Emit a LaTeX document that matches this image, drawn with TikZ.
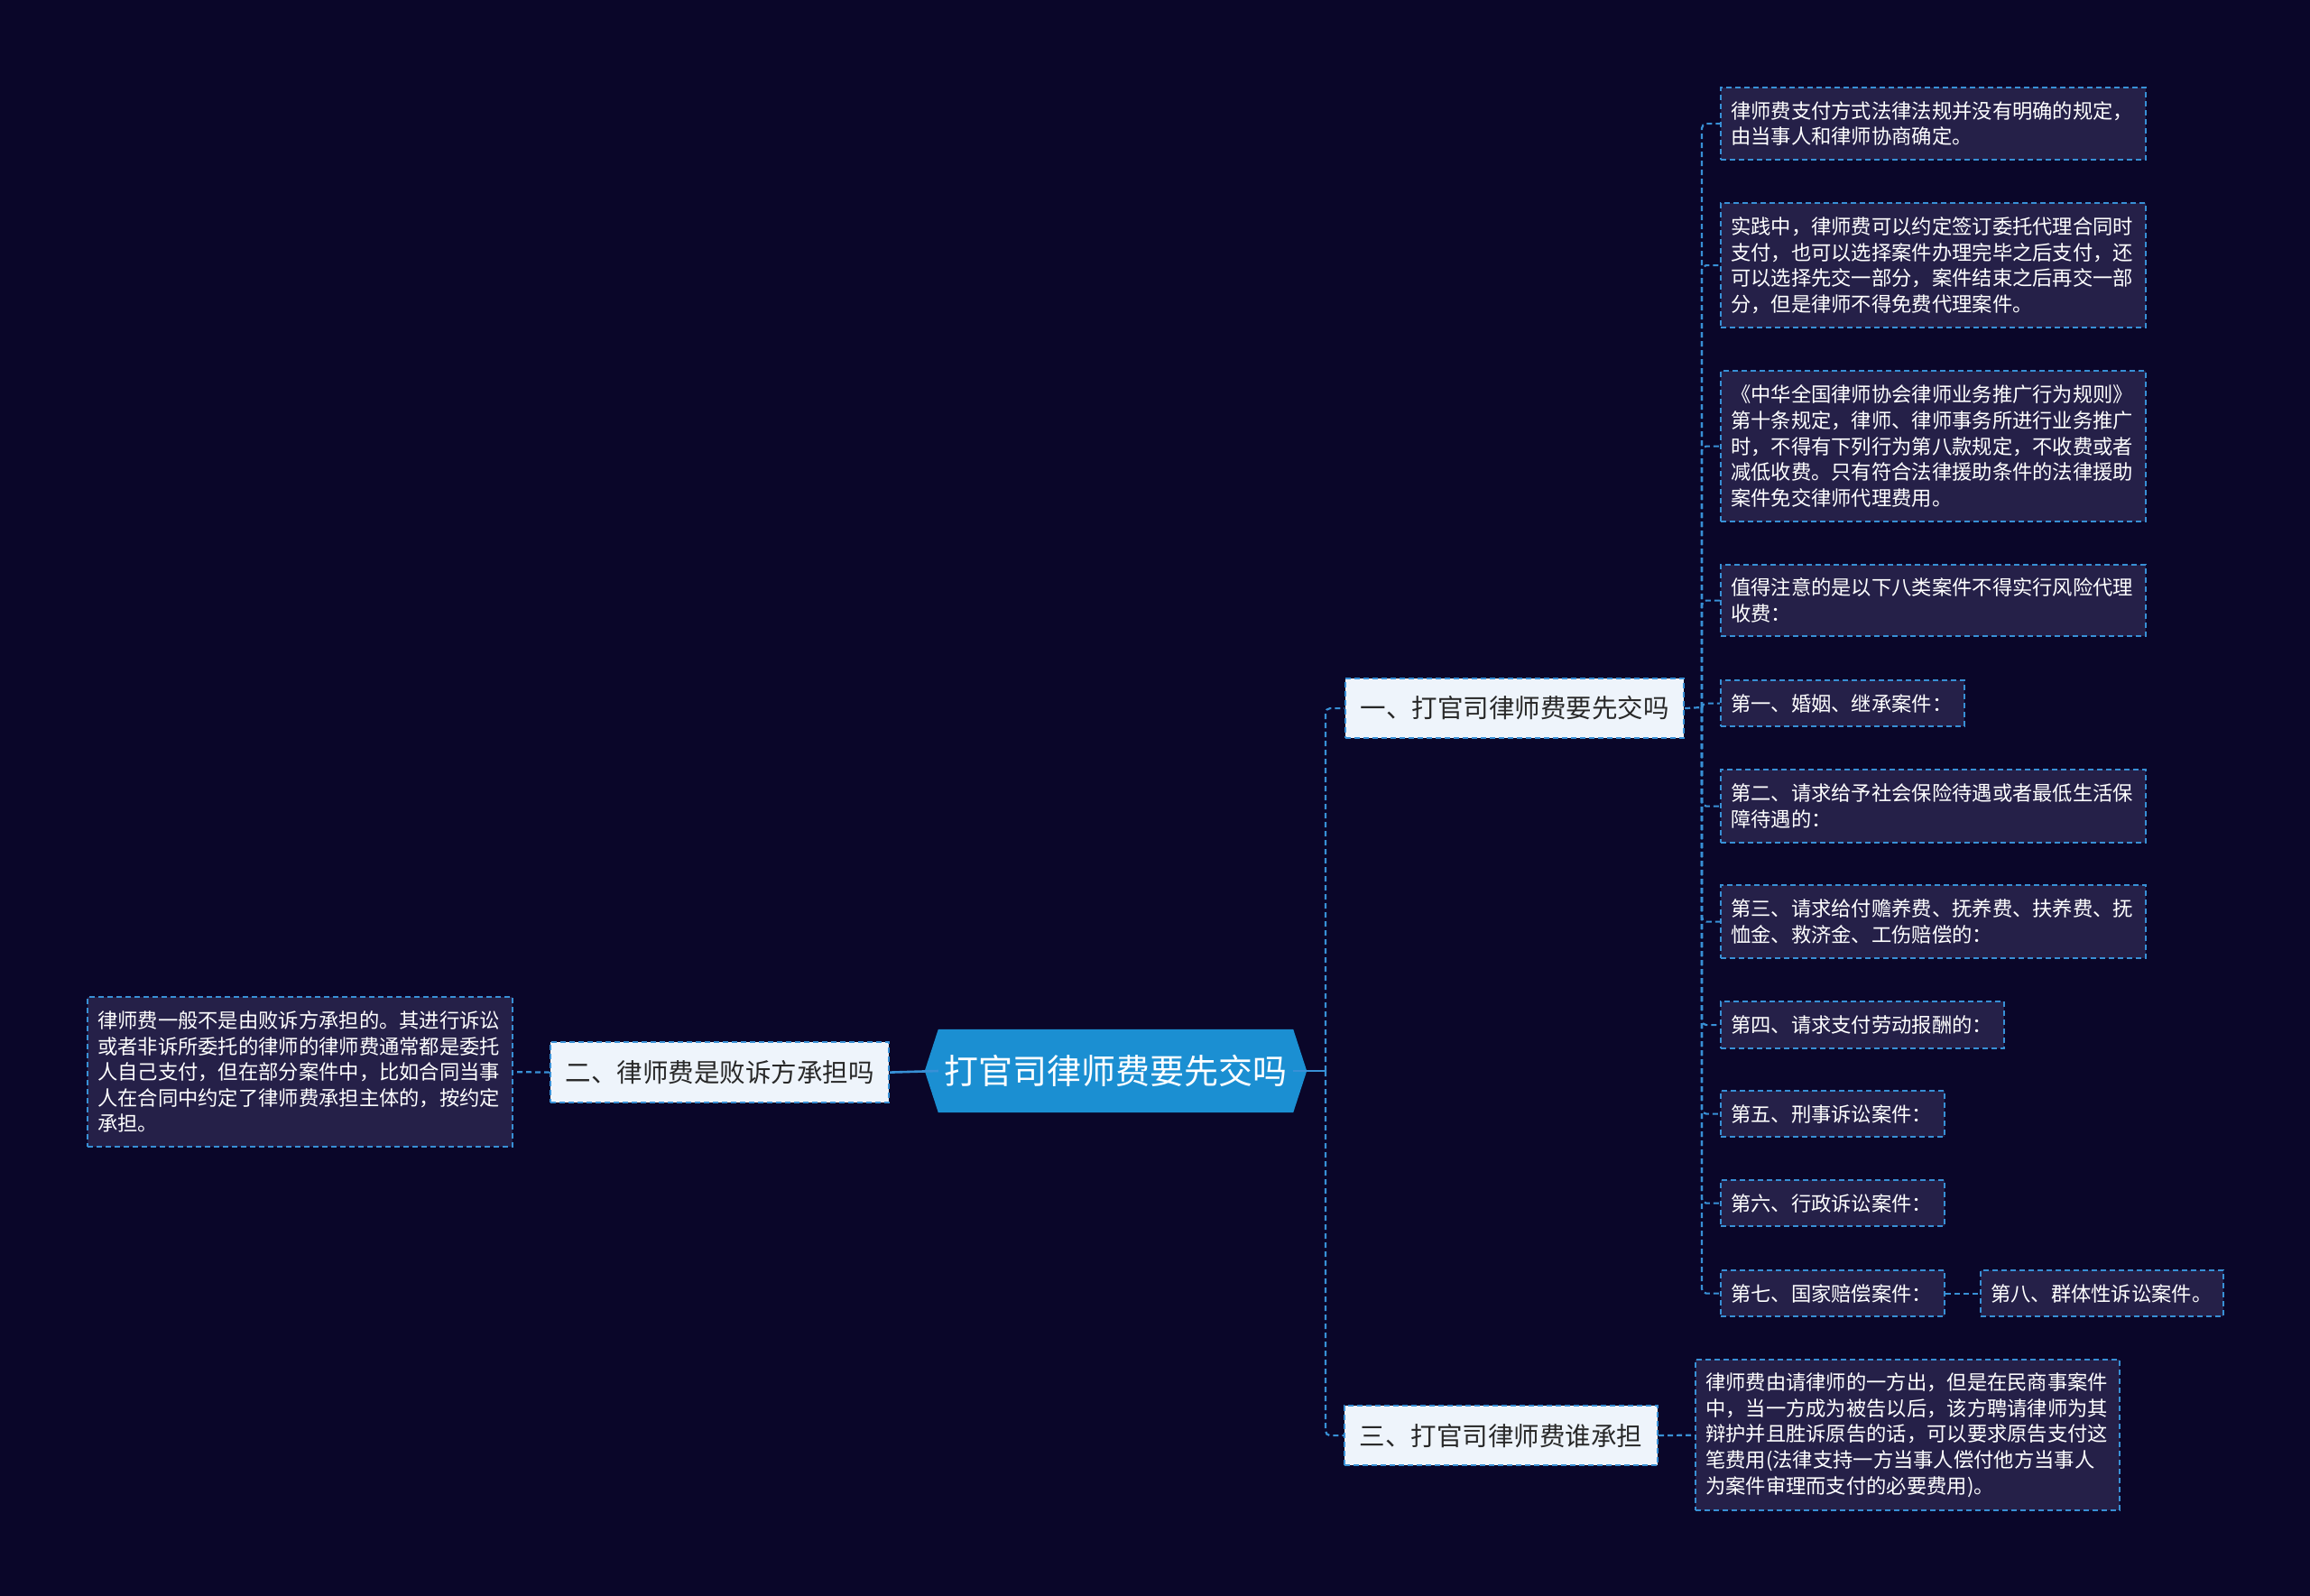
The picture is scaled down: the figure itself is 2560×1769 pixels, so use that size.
\documentclass[tikz,border=0pt]{standalone}
\usepackage{fontspec}
\setmainfont{Noto Sans CJK SC}
\usetikzlibrary{calc}
\pgfdeclarelayer{bg}
\pgfsetlayers{bg,main}
\definecolor{bgc}{RGB}{10,6,41}
\definecolor{linec}{RGB}{56,144,214}
\definecolor{rootc}{RGB}{27,143,210}
\definecolor{leaffill}{RGB}{37,32,72}
\definecolor{topfill}{RGB}{238,244,251}
\definecolor{toptext}{RGB}{40,40,40}
\begin{document}
\begin{tikzpicture}[x=1pt,y=-1pt,
  conn/.style={draw=linec, line width=2.2pt, dash pattern=on 6pt off 4pt},
  leaf/.style={draw=linec, fill=leaffill, line width=2.2pt, dash pattern=on 6pt off 4pt,
    text=white, font=\fontsize{22.3}{28.6}\selectfont, align=left,
    inner xsep=11pt, inner ysep=0pt, anchor=north west},
  topic/.style={draw=linec, fill=topfill, line width=2.2pt, dash pattern=on 6pt off 4pt,
    text=toptext, font=\fontsize{28.5}{34}\selectfont, inner sep=0pt, anchor=north west},
  rootn/.style={text=white, font=\fontsize{38}{44}\selectfont, inner sep=0pt,
    minimum width=393pt, minimum height=92pt}
]
\begin{pgfonlayer}{bg}
\fill[bgc] (0,0) rectangle (2560,1769);
\end{pgfonlayer}
\useasboundingbox (0,0) rectangle (2560,1769);

% root
\node[rootn] (root) at (1236.5,1187) {打官司律师费要先交吗};
\begin{pgfonlayer}{bg}
\fill[rootc] (root.north west) -- (root.north east) -- ($(root.east)+(15,0)$)
  -- (root.south east) -- (root.south west) -- ($(root.west)+(-15,0)$) -- cycle;
\end{pgfonlayer}

% topics
\node[topic, minimum width=375pt, minimum height=66pt] (n1) at (1490,751) {一、打官司律师费要先交吗};
\node[topic, minimum width=375pt, minimum height=67pt] (n2) at (609,1154) {二、律师费是败诉方承担吗};
\node[topic, minimum width=347pt, minimum height=66pt] (n3) at (1489,1557) {三、打官司律师费谁承担};

% left detail
\node[leaf, text width=449pt, minimum height=166pt] (d2) at (96,1104)
 {律师费一般不是由败诉方承担的。其进行诉讼\\或者非诉所委托的律师的律师费通常都是委托\\人自己支付，但在部分案件中，比如合同当事\\人在合同中约定了律师费承担主体的，按约定\\承担。};

% third detail
\node[leaf, text width=448pt, minimum height=167pt] (d3) at (1878,1506)
 {律师费由请律师的一方出，但是在民商事案件\\中，当一方成为被告以后，该方聘请律师为其\\辩护并且胜诉原告的话，可以要求原告支付这\\笔费用(法律支持一方当事人偿付他方当事人\\为案件审理而支付的必要费用)。};

% right leaves
\node[leaf, text width=449pt, minimum height=80pt] (b1) at (1906,96)
 {律师费支付方式法律法规并没有明确的规定，\\由当事人和律师协商确定。};
\node[leaf, text width=449pt, minimum height=138pt] (b2) at (1906,224)
 {实践中，律师费可以约定签订委托代理合同时\\支付，也可以选择案件办理完毕之后支付，还\\可以选择先交一部分，案件结束之后再交一部\\分，但是律师不得免费代理案件。};
\node[leaf, text width=449pt, minimum height=167pt] (b3) at (1906,410)
 {《中华全国律师协会律师业务推广行为规则》\\第十条规定，律师、律师事务所进行业务推广\\时，不得有下列行为第八款规定，不收费或者\\减低收费。只有符合法律援助条件的法律援助\\案件免交律师代理费用。};
\node[leaf, text width=449pt, minimum height=79pt] (b4) at (1906,625)
 {值得注意的是以下八类案件不得实行风险代理\\收费：};
\node[leaf, text width=248pt, minimum height=51pt] (b5) at (1906,753)
 {第一、婚姻、继承案件：};
\node[leaf, text width=449pt, minimum height=81pt] (b6) at (1906,852)
 {第二、请求给予社会保险待遇或者最低生活保\\障待遇的：};
\node[leaf, text width=449pt, minimum height=81pt] (b7) at (1906,980)
 {第三、请求给付赡养费、抚养费、扶养费、抚\\恤金、救济金、工伤赔偿的：};
\node[leaf, text width=292pt, minimum height=52pt] (b8) at (1906,1109)
 {第四、请求支付劳动报酬的：};
\node[leaf, text width=226pt, minimum height=51pt] (b9) at (1906,1208)
 {第五、刑事诉讼案件：};
\node[leaf, text width=226pt, minimum height=51pt] (b10) at (1906,1307)
 {第六、行政诉讼案件：};
\node[leaf, text width=226pt, minimum height=51pt] (b11) at (1906,1407)
 {第七、国家赔偿案件：};
\node[leaf, text width=247pt, minimum height=51pt] (b12) at (2194,1407)
 {第八、群体性诉讼案件。};

% connectors
\coordinate (t1) at (1469,1187);
\coordinate (t2) at (1886,784);
\draw[linec, line width=2.6pt] (root.west) -- (n2.east);
\draw[conn] (n2.west) -- (d2.east);
\draw[linec, line width=2.4pt] (root.east) -- (t1);
\draw[conn, rounded corners=5pt] (t1) |- (n1.west);
\draw[conn, rounded corners=5pt] (t1) |- (n3.west);
\draw[conn] (n1.east) -- (t2);
\foreach \b in {b1,b2,b3,b4,b5,b6,b7,b8,b9,b10,b11}
  \draw[conn, rounded corners=5pt] (t2) |- (\b.west);
\draw[conn] (b11.east) -- (b12.west);
\draw[conn] (n3.east) -- (d3.west);
\end{tikzpicture}
\end{document}
